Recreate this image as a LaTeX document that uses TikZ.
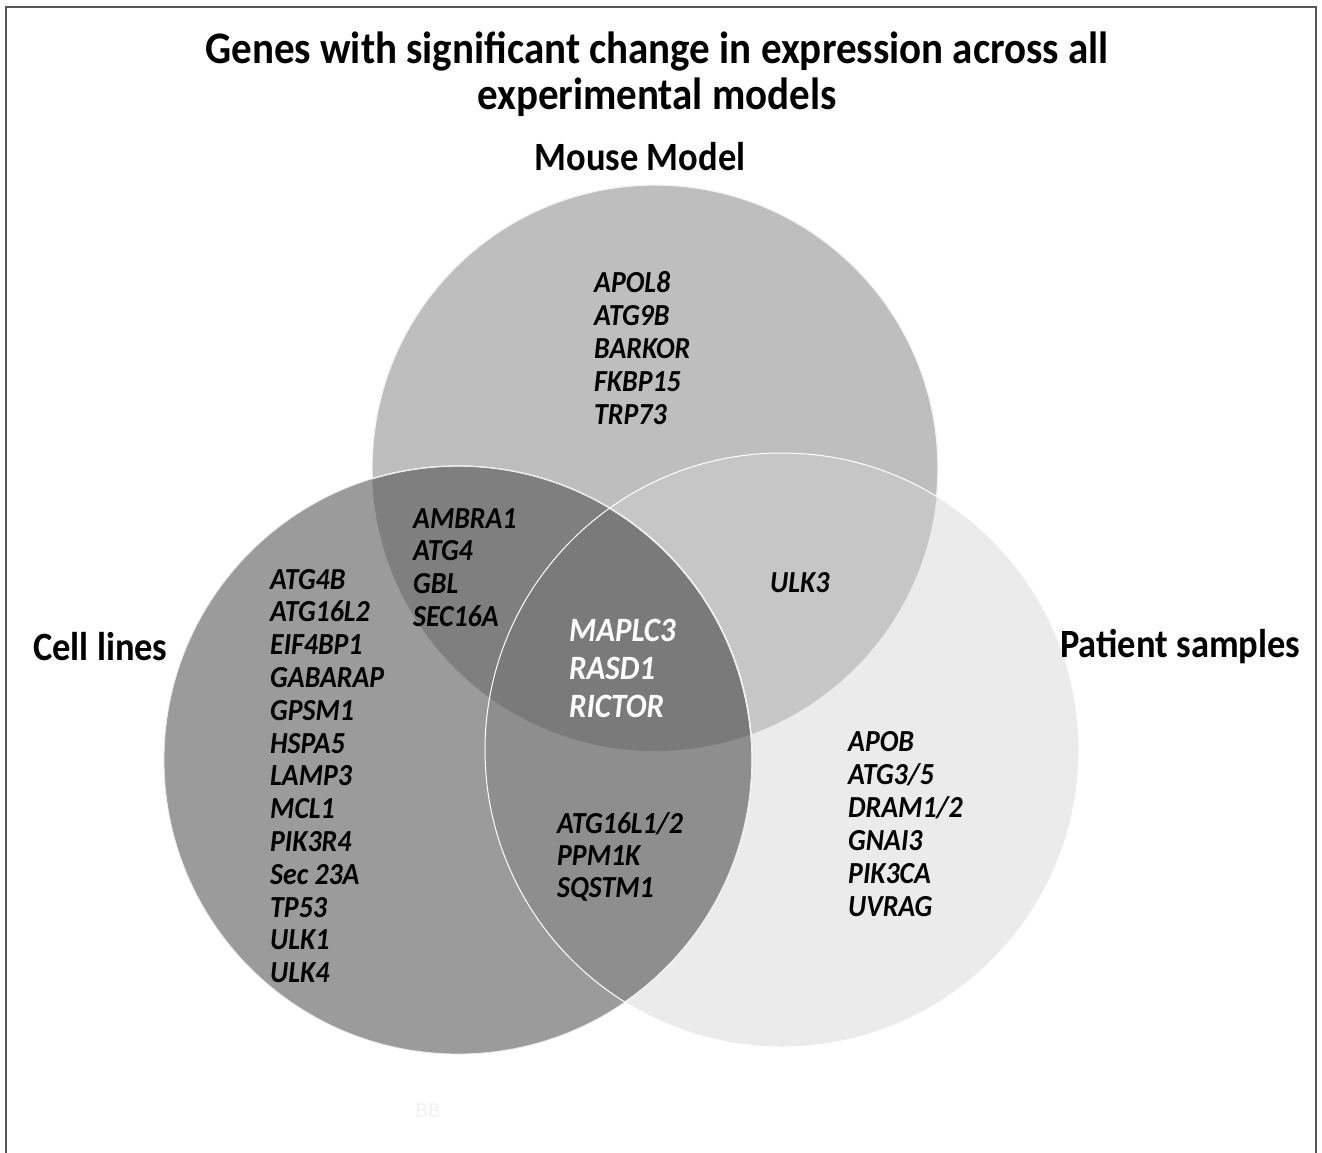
\documentclass[tikz,border=0pt]{standalone}
\usepackage{fontspec}
\usepackage{graphicx}
\setmainfont{Carlito}
\newcommand{\tallt}[1]{\scalebox{1}[1.1]{#1}}
\definecolor{mouseC}{HTML}{BEBEBE}
\definecolor{cellC}{HTML}{9B9B9B}
\definecolor{patC}{HTML}{EBEBEB}
\definecolor{mcC}{HTML}{7F7F7F}
\definecolor{cpC}{HTML}{8E8E8E}
\definecolor{mpC}{HTML}{C6C6C6}
\definecolor{ctrC}{HTML}{7A7A7A}
\definecolor{frameC}{HTML}{555555}
\tikzset{
  gene/.style={inner sep=0pt, anchor=base west, font=\fontsize{27.8}{32}\selectfont\bfseries\itshape},
  wgene/.style={gene, text=white, font=\fontsize{31}{34}\selectfont\bfseries\itshape},
  setlabel/.style={inner sep=0pt, font=\fontsize{36.5}{40}\selectfont\bfseries},
  titlestyle/.style={inner sep=0pt, align=center, font=\fontsize{41}{46}\selectfont\bfseries},
  rim/.style={draw=white, line width=1.3pt}
}
\begin{document}
\begin{tikzpicture}[x=1pt,y=-1pt]
\useasboundingbox (0,0) rectangle (1322,1153);
\fill[white] (0,0) rectangle (1322,1153);
\draw[frameC, line width=2pt] (6,1170) -- (6,7) -- (1316,7) -- (1316,1170);
% circles
\def\mouse{(655,468) circle[radius=283pt]}
\def\cell{(458,760) circle[radius=294pt]}
\def\pat{(782,750) circle[radius=297pt]}
\fill[mouseC] \mouse;
\draw[rim, white!85!mouseC] \mouse;
\fill[cellC] \cell;
\fill[patC] \pat;
\begin{scope}\clip \mouse; \fill[mcC] \cell; \fill[mpC] \pat; \end{scope}
\begin{scope}\clip \cell; \fill[cpC] \pat; \end{scope}
\begin{scope}\clip \mouse; \clip \cell; \fill[ctrC] \pat; \end{scope}
\begin{scope}\clip \mouse; \draw[rim] \cell; \end{scope}
\begin{scope}\clip \pat; \draw[rim] \cell; \end{scope}
\draw[rim, white!80!cellC, line width=0.8pt] \cell;
\draw[rim, line width=1pt] \pat;
% title and labels
\node[titlestyle] (title) at (657,74) {\tallt{Genes with significant change in expression across all}\\\tallt{experimental models}};
\node[setlabel] (mouselab) at (640,157) {\tallt{Mouse Model}};
\node[setlabel, anchor=west] (celllab) at (33,647) {\tallt{Cell lines}};
\node[setlabel, anchor=west] (patlab) at (1060,647) {\tallt{Patient samples}};
% gene lists
\foreach \g [count=\i from 0] in {APOL8,ATG9B,BARKOR,FKBP15,TRP73}
  \node[gene] (mo\i) at (594,292+33*\i) {\tallt{\g}};
\foreach \g [count=\i from 0] in {AMBRA1,ATG4,GBL,SEC16A}
  \node[gene] (mc\i) at (413,528+32.7*\i) {\tallt{\g}};
\foreach \g [count=\i from 0] in {ATG4B,ATG16L2,EIF4BP1,GABARAP,GPSM1,HSPA5,LAMP3,MCL1,PIK3R4,Sec 23A,TP53,ULK1,ULK4}
  \node[gene] (co\i) at (270,589+32.8*\i) {\tallt{\g}};
\foreach \g [count=\i from 0] in {MAPLC3,RASD1,RICTOR}
  \node[wgene] (ctr\i) at (569,641+38*\i) {\tallt{\g}};
\node[gene] (mp0) at (770,592) {\tallt{ULK3}};
\foreach \g [count=\i from 0] in {ATG16L1/2,PPM1K,SQSTM1}
  \node[gene] (cp\i) at (557,833+32*\i) {\tallt{\g}};
\foreach \g [count=\i from 0] in {APOB,ATG3/5,DRAM1/2,GNAI3,PIK3CA,UVRAG}
  \node[gene] (po\i) at (848,751+33*\i) {\tallt{\g}};
\node[inner sep=0pt, text=black!4, font=\fontsize{22}{24}\selectfont\bfseries] (mark) at (428,1110) {BB};
\end{tikzpicture}
\end{document}
